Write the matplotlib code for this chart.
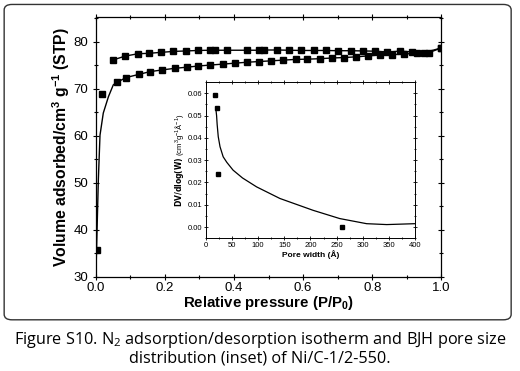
import matplotlib
matplotlib.use("Agg")
import matplotlib.pyplot as plt
from matplotlib.patches import FancyBboxPatch
from matplotlib.ticker import MultipleLocator

plt.rcParams['font.family'] = ['Liberation Sans', 'DejaVu Sans']
plt.rcParams['mathtext.default'] = 'regular'

# --- isotherm, adsorption branch (lower) ---
ads_p = [0.003, 0.017, 0.061, 0.088, 0.124, 0.157, 0.191, 0.228, 0.264, 0.297,
         0.331, 0.368, 0.402, 0.438, 0.473, 0.508, 0.543, 0.578, 0.611, 0.648,
         0.684, 0.719, 0.754, 0.788, 0.823, 0.858, 0.893, 0.928, 0.964, 0.998]
ads_v = [35.7, 68.9, 71.3, 72.35, 73.0, 73.6, 73.95, 74.3, 74.55, 74.8,
         75.0, 75.2, 75.4, 75.6, 75.75, 75.9, 76.05, 76.2, 76.25, 76.35,
         76.5, 76.6, 76.75, 76.95, 77.1, 77.2, 77.35, 77.5, 77.65, 78.6]
# low pressure part of the drawn adsorption line
low_p = [0.0005, 0.004, 0.0077, 0.0125, 0.022, 0.037, 0.051, 0.061]
low_v = [30.0, 40.0, 50.6, 60.1, 64.8, 68.3, 70.8, 71.3]

# --- desorption branch (upper) ---
des_p = [0.051, 0.085, 0.122, 0.155, 0.189, 0.225, 0.262, 0.295, 0.331, 0.346,
         0.381, 0.438, 0.473, 0.488, 0.525, 0.560, 0.595, 0.630, 0.665, 0.700,
         0.737, 0.773, 0.808, 0.843, 0.879, 0.914, 0.950, 0.998]
des_v = [76.1, 76.9, 77.4, 77.5, 77.7, 77.9, 78.0, 78.1, 78.15, 78.15,
         78.15, 78.15, 78.15, 78.2, 78.2, 78.15, 78.1, 78.1, 78.1, 78.05,
         78.05, 78.0, 77.95, 77.8, 77.95, 77.8, 77.65, 78.6]

# --- BJH inset ---
pore_w = [17.9, 20.4, 22.4, 259.6]
pore_dv = [0.0593, 0.0532, 0.0236, 0.0002]
fit_w = [19, 20.4, 21.5, 23.6, 27, 33, 40, 52, 70, 97, 141.6, 205, 256, 307.5, 346, 400]
fit_dv = [0.053, 0.050, 0.046, 0.0405, 0.036, 0.0315, 0.029, 0.0255, 0.022, 0.018,
          0.0128, 0.0075, 0.0038, 0.0015, 0.0011, 0.0015]

fig = plt.figure(figsize=(5.2, 3.71), dpi=100)

# rounded frame around the plot
frame = FancyBboxPatch((0.018, 0.148), 0.955, 0.83,
                       boxstyle="round,pad=0.01,rounding_size=0.015",
                       transform=fig.transFigure, fill=False,
                       edgecolor='#333333', linewidth=1.0)
fig.patches.append(frame)

ax = fig.add_axes([0.184, 0.254, 0.665, 0.700])
ax.plot(low_p, low_v, color='black', linewidth=1.0)
ax.plot(ads_p[2:], ads_v[2:], color='black', linewidth=1.0)
ax.plot(ads_p, ads_v, 's', color='black', markersize=4.5, linestyle='none')
ax.plot(des_p, des_v, 's-', color='black', markersize=4.5, linewidth=1.0)
ax.set_xlim(0, 1.0)
ax.set_ylim(30, 85.2)
ax.xaxis.set_major_locator(MultipleLocator(0.2))
ax.xaxis.set_minor_locator(MultipleLocator(0.1))
ax.yaxis.set_major_locator(MultipleLocator(10))
ax.yaxis.set_minor_locator(MultipleLocator(5))
ax.set_xticks([0.0, 0.2, 0.4, 0.6, 0.8, 1.0])
ax.set_xticklabels(['0.0', '0.2', '0.4', '0.6', '0.8', '1.0'])
ax.set_yticks([30, 40, 50, 60, 70, 80])
ax.tick_params(which='both', direction='inout', top=True, right=True,
               labelsize=9.5, width=0.8)
ax.tick_params(which='major', length=5)
ax.tick_params(axis='x', which='major', pad=1)
ax.tick_params(axis='y', which='major', pad=3)
ax.tick_params(which='minor', length=3)
ax.set_xlabel('Relative pressure (P/P$_0$)', fontsize=10.8, fontweight='bold', labelpad=0)
ax.set_ylabel('Volume adsorbed/cm$^3$ g$^{-1}$ (STP)', fontsize=11.3,
              fontweight='bold', labelpad=1)
for s in ax.spines.values():
    s.set_linewidth(0.9)

# inset
ins = fig.add_axes([0.396, 0.358, 0.402, 0.422])
ins.plot(fit_w, fit_dv, color='black', linewidth=0.9)
ins.plot(pore_w, pore_dv, 's', color='black', markersize=3.5)
ins.set_xlim(0, 400)
ins.set_ylim(-0.005, 0.0652)
ins.xaxis.set_major_locator(MultipleLocator(50))
ins.xaxis.set_minor_locator(MultipleLocator(25))
ins.yaxis.set_major_locator(MultipleLocator(0.01))
ins.yaxis.set_minor_locator(MultipleLocator(0.005))
ins.set_yticks([0.0, 0.01, 0.02, 0.03, 0.04, 0.05, 0.06])
ins.set_yticklabels(['0.00', '0.01', '0.02', '0.03', '0.04', '0.05', '0.06'])
ins.tick_params(which='both', direction='inout', top=True, right=True,
                labelsize=5.5, width=0.6, pad=1)
ins.tick_params(which='major', length=3)
ins.tick_params(which='minor', length=2)
ins.set_xlabel('Pore width (Å)', fontsize=6, fontweight='bold', labelpad=1)
ins.set_ylabel(r'$\mathbf{DV/dlog(W)}$ (cm$^3$g$^{-1}$Å$^{-1}$)', fontsize=5.5, labelpad=1)
for s in ins.spines.values():
    s.set_linewidth(0.7)

cap_font = ['Open Sans', 'DejaVu Sans']
fig.text(0.5, 0.083, 'Figure S10. N$_2$ adsorption/desorption isotherm and BJH pore size',
         ha='center', va='center', fontsize=11.7, family=cap_font)
fig.text(0.5, 0.035, 'distribution (inset) of Ni/C-1/2-550.',
         ha='center', va='center', fontsize=11.7, family=cap_font)

fig.savefig('out.png', dpi=100)
